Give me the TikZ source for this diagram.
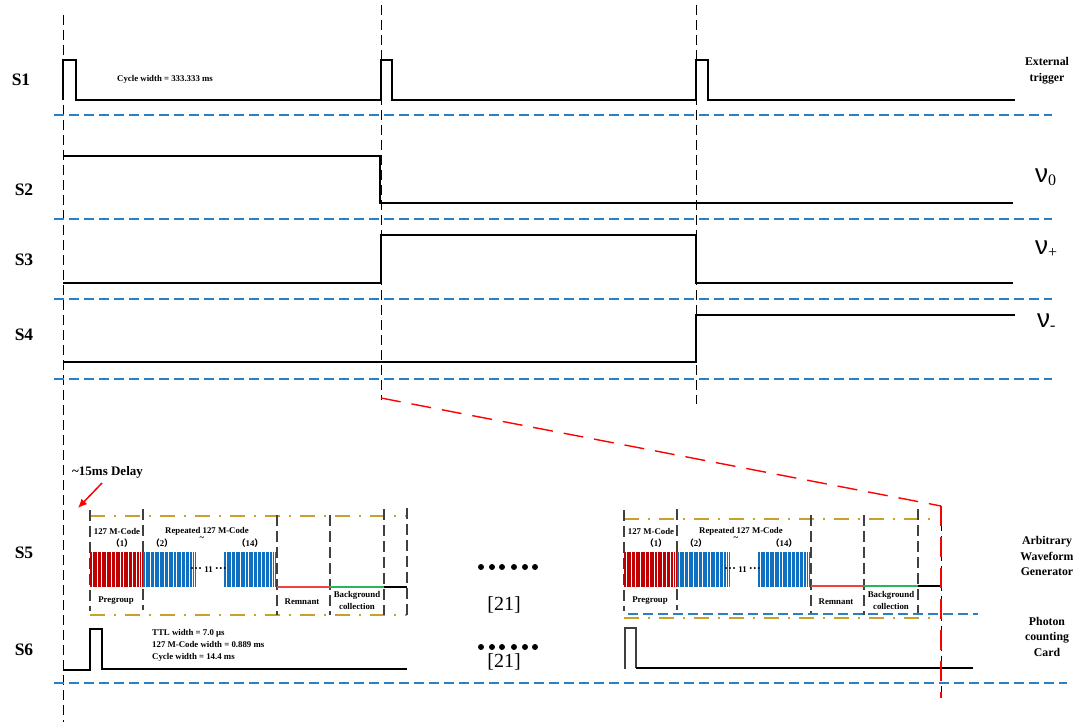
\documentclass[tikz,border=0pt]{standalone}
\usepackage{fontspec}
\usetikzlibrary{arrows.meta}
\setmainfont{Liberation Serif}
\newfontfamily\sansf{Liberation Sans}
\newfontfamily\cjk{Noto Sans CJK SC}
\definecolor{lineblue}{HTML}{2E7FC0}
\definecolor{blockblue}{HTML}{0F6FC0}
\definecolor{blockred}{HTML}{C00000}
\definecolor{gold}{HTML}{C9A02C}
\definecolor{sred}{HTML}{F04040}
\definecolor{sgreen}{HTML}{2DB35A}
\definecolor{grid}{HTML}{404040}
\tikzset{
  sig/.style={line width=2pt,black,line join=miter},
  thinsig/.style={line width=1.2pt,black},
  vdash/.style={line width=1pt,black,dash pattern=on 10pt off 5pt},
  pdash/.style={line width=1.2pt,grid,dash pattern=on 11pt off 5pt},
  bdash/.style={line width=1.1pt,lineblue,dash pattern=on 10pt off 5pt},
  rdash/.style={line width=1.4pt,red,dash pattern=on 20pt off 11pt},
  gdash/.style={line width=1.4pt,gold,dash pattern=on 15pt off 9pt on 2pt off 9pt},
  chan/.style={font=\bfseries\fontsize{17.5}{17.5}\selectfont,inner sep=0pt},
  small/.style={font=\bfseries\fontsize{8.8}{12}\selectfont,inner sep=0pt,align=center},
  side/.style={font=\bfseries\fontsize{11.8}{15.5}\selectfont,inner sep=0pt,align=center},
  nu/.style={font=\sansf\fontsize{26}{26}\selectfont,inner sep=0pt,anchor=west},
  cite/.style={font=\fontsize{20}{20}\selectfont,inner sep=0pt},
}
\newcommand{\nulabel}[1]{ν\raisebox{-3.5pt}{\rmfamily\fontsize{16}{16}\selectfont #1}}
\newcommand{\barcode}[3]{% x0, width, colour
  \fill[#3] (#1,552) rectangle ++(#2,35);
  \foreach \f/\w in {.04/.3,.13/.2,.22/.4,.31/.2,.40/.2,.47/.5,.56/.2,.63/.4,.72/.2,.80/.3,.87/.2,.93/.3,.97/.3}
    \draw[white,line width=\w pt] ({#1+\f*#2},552) -- ({#1+\f*#2},587);
}
\newcommand{\tdots}{{\fontsize{12}{12}\selectfont ···}}
\newcommand{\num}[1]{{\cjk （}#1{\cjk ）}}
\newcommand{\panel}[4]{% top of gold, bottom of gold, gold right, base
  \draw[gdash] (90,#1) -- (#3,#1);
  \draw[gdash] (90,#2) -- (#3,#2);
  \draw[pdash] (90,510) -- (90,611);
  \draw[pdash] (143,509) -- (143,610);
  \draw[pdash] (277,515) -- (277,615);
  \draw[pdash] (330,515) -- (330,615);
  \draw[pdash] (384,509) -- (384,615);
  \barcode{90}{53}{blockred}
  \barcode{143}{53}{blockblue}
  \barcode{224}{52}{blockblue}
  \draw[sred,line width=1.2pt] (277,#4) -- (330,#4);
  \draw[sgreen,line width=1.2pt] (330,#4) -- (384,#4);
  \draw[thinsig] (384,#4) -- (407,#4);
  \node[small] (code) at (117,531) {127 M-Code};
  \node[small] (rep) at (207,531) {Repeated 127 M-Code};
  \node[small] (tilde) at (202,539) {\textasciitilde};
  \node[small] (n1) at (122,543.5) {\num{1}};
  \node[small] (n2) at (162,543.5) {\num{2}};
  \node[small] (n14) at (250,543.5) {\num{14}};
  \node[small] (eleven) at (208.5,569.5) {\tdots\ 11 \tdots};
  \node[small] (pre) at (116,601) {Pregroup};
  \node[small] (rem) at (302,601.5) {Remnant};
  \node[small] (bg) at (357,600) {Background\\collection};
}
\begin{document}
\begin{tikzpicture}[x=1pt,y=-1pt]
\useasboundingbox (0,0) rectangle (1082,722);
% guide lines
\draw[vdash] (63,15) -- (63,722);
\draw[vdash] (381,5) -- (381,400);
\draw[vdash] (696,5) -- (696,404);
\foreach \y in {115,219,299,379} \draw[bdash] (54,\y) -- (1052,\y);
\draw[bdash] (54,683) -- (1067,683);
% signals
\draw[sig] (63,100) -- (63,60) -- (76,60) -- (76,100) -- (381,100) -- (381,60) -- (392,60) -- (392,100) -- (696,100) -- (696,60) -- (708,60) -- (708,100) -- (1015,100);
\draw[sig] (63,156) -- (380,156) -- (380,203) -- (1013,203);
\draw[sig] (63,283) -- (381,283) -- (381,235) -- (696,235) -- (696,283) -- (1013,283);
\draw[sig] (63,362) -- (696,362) -- (696,315) -- (1015,315);
% channel labels
\node[chan] (s1) at (21,80) {S1};
\node[chan] (s2) at (24,190) {S2};
\node[chan] (s3) at (24,260) {S3};
\node[chan] (s4) at (24,335) {S4};
\node[chan] (s5) at (24,553) {S5};
\node[chan] (s6) at (24,650) {S6};
\node[small,anchor=west] (cyc) at (117,79) {Cycle width = 333.333 ms};
\node[side] (ext) at (1047,70.5) {External\\trigger};
\node[nu] (v0) at (1035,177) {\nulabel{0}};
\node[nu] (vp) at (1035,249) {\nulabel{+}};
\node[nu] (vm) at (1037,322) {\nulabel{-}};
\node[side] (awg) at (1047,556) {Arbitrary\\Waveform\\Generator};
\node[side] (pcc) at (1047,636.5) {Photon\\counting\\Card};
% delay
\node[font=\bfseries\fontsize{13}{13}\selectfont,inner sep=0pt,anchor=west] (delay) at (72,472) {\textasciitilde 15ms Delay};
\coordinate (arrowfrom) at (102,483);
\coordinate (arrowto) at (78,508);
\draw[red,line width=1.5pt,-{Latex[length=9pt,width=8pt]}] (arrowfrom) -- (arrowto);
% left panel
\begin{scope}[name prefix=L-]
\panel{516}{615}{407}{587}
\draw[pdash] (407,508) -- (407,616);
\end{scope}
% S6 left
\draw[thinsig] (63,670) -- (90,670) -- (90,629) -- (102,629) -- (102,669) -- (407,669);
\node[small,anchor=west,align=left] (ttl) at (152,645) {TTL width = 7.0 µs\\127 M-Code width = 0.889 ms\\Cycle width = 14.4 ms};
% middle
\foreach \y in {567,647} \foreach \x in {481,492,502,514,525,535}
  \fill (\x,\y) circle (3);
\node[cite] (c1) at (504,605) {[21]};
\node[cite] (c2) at (504,662) {[21]};
% right panel
\begin{scope}[xshift=534pt,name prefix=R-]
\panel{519}{618}{401}{586}
\end{scope}
\draw[bdash] (628,614) -- (978,614);
\draw[thinsig,grid] (625,669) -- (625,628) -- (636,628) -- (636,668);
\draw[thinsig] (636,668) -- (973,668);
% red projection
\coordinate (rstart) at (381,398);
\coordinate (rcorner) at (941,506);
\coordinate (rend) at (941,698);
\draw[vdash] (rcorner) -- (rend);
\draw[rdash] (rstart) -- (rcorner);
\draw[rdash] (rcorner) -- (rend);
\end{tikzpicture}
\end{document}
